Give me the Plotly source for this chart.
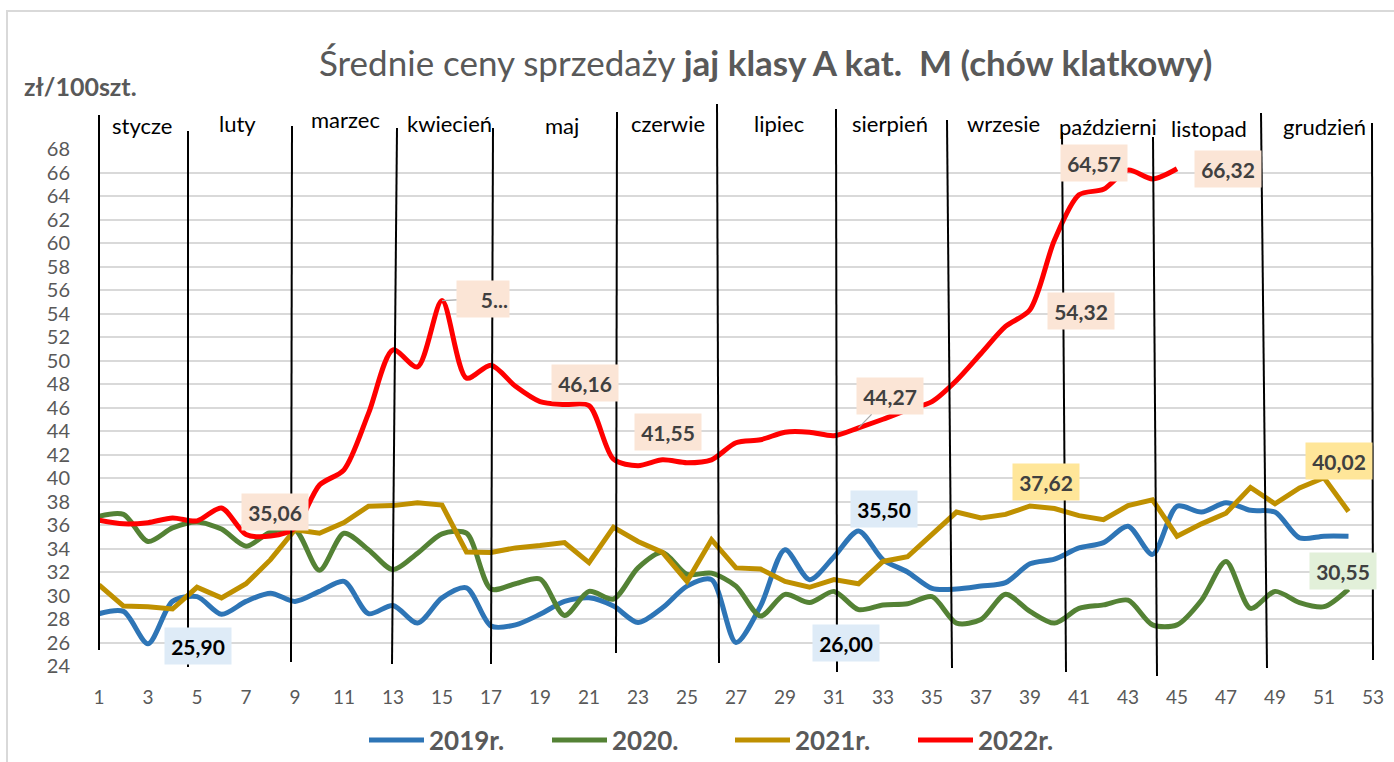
import plotly.graph_objects as go

# ---------------- data ----------------
weeks = list(range(1, 53))
tick_weeks = list(range(1, 54, 2))
y_ticks = list(range(24, 69, 2))

months = ["stycze", "luty", "marzec", "kwiecień", "maj", "czerwie", "lipiec",
          "sierpień", "wrzesie", "październi", "listopad", "grudzień"]

series_names = ["2019r.", "2020.", "2021r.", "2022r."]

y2019 = [28.45, 28.65, 25.90, 29.5, 29.9, 28.4, 29.5, 30.2, 29.5, 30.35,
         31.2, 28.45, 29.15, 27.65, 29.8, 30.65, 27.4, 27.5, 28.4, 29.5,
         29.8, 29.1, 27.7, 28.95, 30.8, 31.35, 26.00, 29.1, 33.9, 31.35,
         33.3, 35.50, 33.05, 32.0, 30.6, 30.55, 30.8, 31.1, 32.7, 33.1,
         34.05, 34.5, 35.9, 33.5, 37.6, 37.1, 37.9, 37.25, 37.1, 34.9,
         35.05, 35.05]

y2020 = [36.75, 36.9, 34.6, 35.75, 36.25, 35.65, 34.2, 35.4, 35.6, 32.15,
         35.3, 33.9, 32.2, 33.6, 35.25, 35.3, 30.55, 31.0, 31.4, 28.3,
         30.35, 29.7, 32.35, 33.67, 31.8, 31.9, 30.8, 28.25, 30.1, 29.4,
         30.35, 28.8, 29.2, 29.3, 29.9, 27.65, 27.95, 30.1, 28.65, 27.65,
         28.9, 29.2, 29.6, 27.5, 27.5, 29.6, 32.9, 28.9, 30.35, 29.4,
         29.05, 30.55]

y2021 = [30.9, 29.1, 29.05, 28.85, 30.7, 29.8, 31.0, 33.05, 35.6, 35.3,
         36.2, 37.6, 37.65, 37.9, 37.7, 33.7, 33.67, 34.05, 34.25, 34.5,
         32.8, 35.8, 34.6, 33.67, 31.2, 34.75, 32.35, 32.25, 31.2, 30.7,
         31.35, 31.0, 32.9, 33.3, 35.2, 37.1, 36.6, 36.9, 37.62, 37.4,
         36.8, 36.45, 37.65, 38.15, 35.05, 36.1, 37.0, 39.2, 37.8, 39.15,
         40.02, 37.15]

y2022 = [36.4, 36.1, 36.2, 36.6, 36.35, 37.45, 35.2, 35.06, 35.75, 39.4,
         40.7, 45.5, 50.9, 49.45, 55.1, 48.5, 49.6, 47.8, 46.5, 46.25,
         46.16, 41.6, 41.05, 41.55, 41.3, 41.55, 43.0, 43.25, 43.9, 43.9,
         43.6, 44.27, 45.0, 45.8, 46.5, 48.3, 50.6, 52.9, 54.32, 60.25,
         64.1, 64.57, 66.2, 65.45, 66.32]

# labelled points: (series index, week)
label_points = [(0, 3), (0, 27), (0, 32), (1, 52), (2, 39), (2, 51),
                (3, 8), (3, 15), (3, 21), (3, 24), (3, 32), (3, 39), (3, 42), (3, 45)]

# ---------------- styling / layout ----------------
W, H = 1394, 762
L, R, T, B = 99, 21, 149, 96
PW, PH = W - L - R, H - T - B

def px_x(px):
    return (px - L) / PW

def px_y(py):
    return (H - B - py) / PH

colors = ["#2E75B6", "#548235", "#BF9000", "#FF0000"]
shapes_line = ["spline", "spline", "linear", "spline"]
label_bg = ["#DEEBF7", "#E2F0D9", "#FFE699", "#FBE5D6"]
label_fg = ["#000000", "#404040", "#404040", "#404040"]
FONT = "Lato"

all_series = [y2019, y2020, y2021, y2022]

fig = go.Figure()
for name, ys, col, shp in zip(series_names, all_series, colors, shapes_line):
    fig.add_trace(go.Scatter(
        x=weeks[:len(ys)], y=ys, name=name, mode="lines",
        line=dict(color=col, width=5, shape=shp, smoothing=0.8),
        hoverinfo="x+y+name",
    ))

# label offsets (dx right, dy up) in pixels, and leader line flag
label_style = {
    (0, 3): (50, -2, False), (0, 27): (110, 0, False), (0, 32): (25, 22, False),
    (1, 52): (-6, 18, False), (2, 39): (16, 24, False), (2, 51): (15, 17, False),
    (3, 8): (4, 24, False), (3, 15): (41, 2, True), (3, 21): (-4, 23, False),
    (3, 24): (5, 28, False), (3, 32): (31, 32, True), (3, 39): (51, -1, False),
    (3, 42): (-10, 26, False), (3, 45): (51, 0, False),
}

annotations = []
for si, wk in label_points:
    val = all_series[si][wk - 1]
    txt = f"{val:.2f}".replace(".", ",")
    dx, dy, leader = label_style[(si, wk)]
    width = 64
    align = "center"
    if (si, wk) == (3, 15):
        txt = txt[0] + "..."
        width = 50
        align = "right"
    common = dict(x=wk, y=val, xref="x", yref="y", text=f"<b>{txt}</b>",
                  font=dict(family=FONT, size=21, color=label_fg[si]),
                  bgcolor=label_bg[si], width=width, height=34, align=align,
                  borderpad=1)
    if leader:
        annotations.append(dict(common, showarrow=True, ax=dx, ay=-dy,
                                arrowhead=0, arrowwidth=1.2, arrowcolor="#A6A6A6",
                                standoff=0, startstandoff=0))
    else:
        annotations.append(dict(common, showarrow=False, xshift=dx, yshift=dy))

# month labels
month_pos = [(142, 125), (237, 124), (345, 120), (450, 123), (562, 125), (668, 123),
             (779, 124), (890, 123), (1003, 124), (1108, 126), (1209, 128), (1324, 127)]
for name, (mx, my) in zip(months, month_pos):
    annotations.append(dict(x=px_x(mx), y=px_y(my), xref="paper", yref="paper",
                            text=name, showarrow=False, xanchor="center", yanchor="middle",
                            font=dict(family=FONT, size=22, color="#000000")))

# title
annotations.append(dict(
    x=px_x(765), y=px_y(62), xref="paper", yref="paper", showarrow=False,
    xanchor="center", yanchor="middle",
    text="Średnie ceny sprzedaży <b>jaj klasy A kat.\u00a0 M (chów klatkowy)</b>",
    font=dict(family=FONT, size=35, color="#595959")))

# unit label
annotations.append(dict(
    x=px_x(22), y=px_y(86), xref="paper", yref="paper", showarrow=False,
    xanchor="left", yanchor="middle", text="<b>zł/100szt.</b>",
    font=dict(family=FONT, size=25, color="#595959")))

# month separators (hand drawn vertical lines): (x_top, y_top, x_bottom, y_bottom) in px
sep_lines = [(99, 115, 99, 650), (188, 131, 188, 667), (292, 126, 291, 662),
             (397, 128, 392, 664), (493, 128, 491, 664), (617, 112, 616, 653),
             (717, 104, 719, 663), (836, 109, 837, 672), (947, 120, 952, 668),
             (1062, 132, 1066, 672), (1153, 137, 1157, 676), (1261, 113, 1267, 668),
             (1372, 123, 1373, 660)]
shapes = []
for x0, y0, x1, y1 in sep_lines:
    shapes.append(dict(type="line", xref="paper", yref="paper",
                       x0=px_x(x0), y0=px_y(y0), x1=px_x(x1), y1=px_y(y1),
                       line=dict(color="#000000", width=2)))
# chart area border
shapes.append(dict(type="rect", xref="paper", yref="paper",
                   x0=px_x(7), y0=px_y(11), x1=px_x(1420), y1=px_y(790),
                   line=dict(color="#D9D9D9", width=2)))

fig.update_layout(
    width=W, height=H,
    margin=dict(l=L, r=R, t=T, b=B, autoexpand=False),
    paper_bgcolor="white", plot_bgcolor="white",
    xaxis=dict(range=[1, 53], tickmode="array", tickvals=tick_weeks,
               showgrid=False, zeroline=False, showline=False, ticks="",
               ticklabelstandoff=18,
               tickfont=dict(family=FONT, size=19, color="#595959")),
    yaxis=dict(range=[24, 68], tickmode="array", tickvals=y_ticks,
               showgrid=True, gridcolor="#D9D9D9", gridwidth=1.5,
               zeroline=False, showline=False, ticks="",
               ticklabelstandoff=28,
               tickfont=dict(family=FONT, size=20, color="#595959")),
    legend=dict(orientation="h", x=px_x(364), y=px_y(740), xanchor="left",
                yanchor="middle", itemwidth=55, entrywidth=113,
                font=dict(family=FONT, size=26, color="#595959", weight="bold"),
                bgcolor="rgba(0,0,0,0)"),
    annotations=annotations,
    shapes=shapes,
    hovermode="closest",
)

fig.write_html("out.html")
